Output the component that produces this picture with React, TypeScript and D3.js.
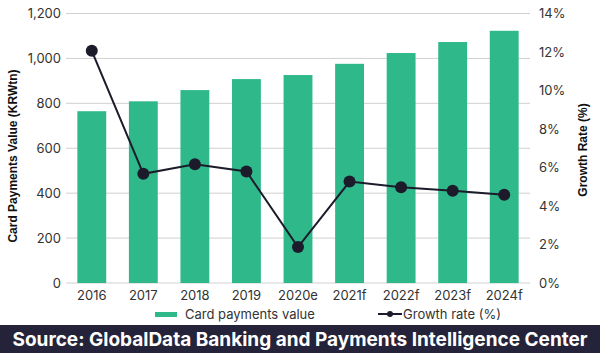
import React from "react";
import * as d3 from "d3";

const categories = ["2016", "2017", "2018", "2019", "2020e", "2021f", "2022f", "2023f", "2024f"];
const cardValues = [765, 809, 859, 908, 926, 976, 1024, 1073, 1123];
const growthRates = [12.06, 5.67, 6.17, 5.79, 1.87, 5.27, 4.98, 4.79, 4.58];
const leftTicks = [0, 200, 400, 600, 800, 1000, 1200];
const rightTicks = [0, 2, 4, 6, 8, 10, 12, 14];

const W = 600, H = 356;
const M = { left: 66, right: 70, top: 13.5, bottom: 73 };
const FONT = "Inter, 'Open Sans', sans-serif";
const GREEN = "#2fb98b";
const DARK = "#1c1b2b";

export default function App() {
  const x = d3.scaleBand<string>().domain(categories).range([M.left, W - M.right]).paddingInner(0.44).paddingOuter(0.22);
  const yL = d3.scaleLinear().domain([0, 1200]).range([H - M.bottom, M.top]);
  const yR = d3.scaleLinear().domain([0, 14]).range([H - M.bottom, M.top]);
  const line = d3.line<number>().x((_, i) => x(categories[i])! + x.bandwidth() / 2).y((d) => yR(d));
  const fmt = d3.format(",");
  return (
    <svg width={W} height={H} style={{ position: "absolute", left: 0, top: 0, background: "#fff" }} fontFamily={FONT}>
      {leftTicks.map((t) => (
        <g key={t}>
          <line x1={M.left} x2={W - M.right} y1={yL(t)} y2={yL(t)} stroke="#d0d0d0" strokeWidth={1} />
          <text x={61} y={yL(t)} dy="0.35em" textAnchor="end" fontSize={13} fill="#333">{fmt(t)}</text>
        </g>
      ))}
      {rightTicks.map((t) => (
        <text key={t} x={539} y={yR(t)} dy="0.35em" textAnchor="start" fontSize={13} fill="#333">{t}%</text>
      ))}
      {categories.map((c, i) => (
        <rect key={c} x={x(c)} y={yL(cardValues[i])} width={x.bandwidth()} height={yL(0) - yL(cardValues[i])} fill={GREEN} />
      ))}
      {categories.map((c) => (
        <text key={c} x={x(c)! + x.bandwidth() / 2} y={300} textAnchor="middle" fontSize={13} fill="#333">{c}</text>
      ))}
      <path d={line(growthRates)!} fill="none" stroke={DARK} strokeWidth={2} />
      {growthRates.map((g, i) => (
        <circle key={i} cx={x(categories[i])! + x.bandwidth() / 2} cy={yR(g)} r={6} fill={DARK} />
      ))}
      <text transform="translate(17,156) rotate(-90)" textAnchor="middle" fontSize={12} fontWeight="bold" fill="#111" fontFamily="'Liberation Sans', Arial, sans-serif">Card Payments Value (KRWtn)</text>
      <text transform="translate(587,150) rotate(-90)" textAnchor="middle" fontSize={12} fontWeight="bold" fill="#111" fontFamily="'Liberation Sans', Arial, sans-serif">Growth Rate (%)</text>
      <rect x={155} y={312} width={22} height={5} fill={GREEN} />
      <text x={185} y={314} dy="0.35em" fontSize={13} fill="#333">Card payments value</text>
      <line x1={378} x2={402} y1={314} y2={314} stroke={DARK} strokeWidth={2} />
      <circle cx={390} cy={314} r={3} fill={DARK} />
      <text x={403} y={314} dy="0.35em" fontSize={13} fill="#333">Growth rate (%)</text>
      <rect x={0} y={325} width={W} height={28} fill="#25233a" />
      <text x={W / 2} y={339} dy="0.36em" textAnchor="middle" fontSize={19} fontWeight="bold" fill="#fff">Source: GlobalData Banking and Payments Intelligence Center</text>
    </svg>
  );
}
